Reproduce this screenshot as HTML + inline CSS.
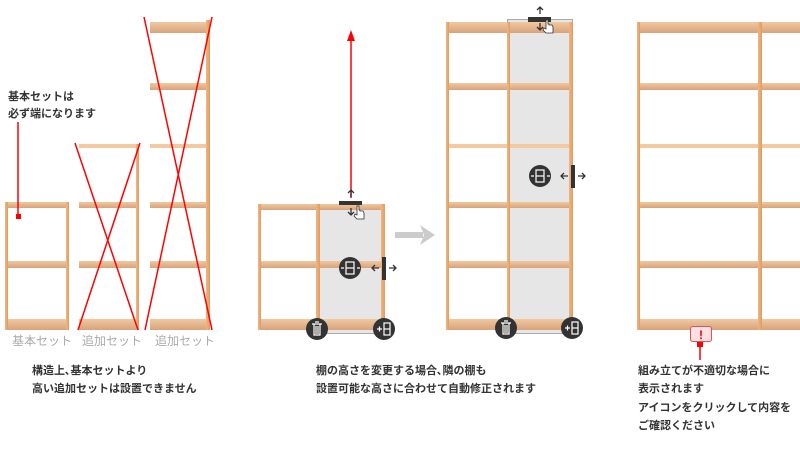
<!DOCTYPE html>
<html><head><meta charset="utf-8"><style>
html,body{margin:0;padding:0;background:#fff;width:800px;height:470px;overflow:hidden}
svg{display:block}
text{font-family:"Liberation Sans","Noto Sans CJK JP",sans-serif}
.t{font-size:11px;font-weight:bold;fill:#333}
.g{font-size:12px;fill:#aaa}
</style></head><body>
<svg width="800" height="470" viewBox="0 0 800 470" xmlns="http://www.w3.org/2000/svg">
<defs>
<linearGradient id="bd" x1="0" y1="0" x2="0" y2="1"><stop offset="0" stop-color="#f0c9a0"/><stop offset="1" stop-color="#d9a27a"/></linearGradient>
<linearGradient id="po" x1="0" y1="0" x2="1" y2="0"><stop offset="0" stop-color="#f2b67e"/><stop offset="1" stop-color="#dd9c66"/></linearGradient>
</defs>
<!-- selection areas (behind) -->
<rect x="318.5" y="204.5" width="65" height="129" fill="#e6e6e6" stroke="#aaa" stroke-width="1"/>
<rect x="507.5" y="19.5" width="65" height="314" fill="#e6e6e6" stroke="#aaa" stroke-width="1"/>

<!-- Set 1 -->
<g fill="url(#bd)">
<rect x="8" y="202" width="58" height="6"/><rect x="8" y="261" width="58" height="7"/><rect x="8" y="319" width="58" height="11"/>
<!-- set2 -->
<rect x="79" y="144" width="57" height="4" fill="#f4c9a0"/><rect x="79" y="202" width="57" height="6"/><rect x="79" y="261" width="57" height="7"/><rect x="79" y="319" width="57" height="11"/>
<!-- set3 -->
<rect x="150" y="22" width="56" height="11"/><rect x="150" y="83" width="56" height="7"/><rect x="150" y="144" width="56" height="4" fill="#f4c9a0"/><rect x="150" y="202" width="56" height="6"/><rect x="150" y="261" width="56" height="7"/><rect x="150" y="319" width="56" height="11"/>
<!-- middle -->
<rect x="258" y="204" width="127" height="6"/><rect x="258" y="261" width="127" height="7"/><rect x="258" y="319" width="127" height="11"/>
<!-- group3 -->
<rect x="446" y="22" width="127" height="11"/><rect x="446" y="83" width="127" height="7"/><rect x="446" y="144" width="127" height="4" fill="#f4c9a0"/><rect x="446" y="202" width="127" height="6"/><rect x="446" y="261" width="127" height="7"/><rect x="446" y="319" width="127" height="11"/>
<!-- group4 -->
<rect x="637" y="22" width="163" height="11"/><rect x="637" y="83" width="163" height="7"/><rect x="637" y="144" width="163" height="4" fill="#f4c9a0"/><rect x="637" y="202" width="163" height="6"/><rect x="637" y="261" width="163" height="7"/><rect x="637" y="319" width="163" height="11"/>
</g>
<g fill="url(#po)">
<rect x="5" y="202" width="3" height="128"/><rect x="66" y="202" width="3" height="128"/>
<rect x="136" y="144" width="3" height="186"/>
<rect x="206" y="20" width="4" height="310"/>
<rect x="258" y="204" width="3" height="126"/><rect x="316" y="204" width="4" height="126"/><rect x="381" y="204" width="4" height="126"/>
<rect x="446" y="22" width="3" height="308"/><rect x="507" y="22" width="3" height="308"/><rect x="569" y="22" width="4" height="308"/>
<rect x="637" y="22" width="3" height="308"/><rect x="758" y="22" width="4" height="308"/>
</g>

<!-- red X -->
<g stroke="#f00" stroke-width="1.5">
<line x1="75" y1="143" x2="138" y2="330"/><line x1="140" y1="143" x2="78" y2="330"/>
<line x1="144" y1="17" x2="212" y2="330"/><line x1="212" y1="17" x2="145" y2="330"/>
<line x1="18" y1="122" x2="18" y2="215"/>
<line x1="351" y1="40" x2="351" y2="198"/>
<line x1="700" y1="341" x2="700" y2="360"/>
</g>
<rect x="16" y="214" width="5" height="5" fill="#f00"/>
<polygon points="351,30 347,41 355,41" fill="#f00"/>
<rect x="697" y="342" width="6" height="5" fill="#f00"/>

<text class="g" x="12" y="345">基本セット</text>
<text class="g" x="82" y="345">追加セット</text>
<text class="g" x="155" y="345">追加セット</text>
<text class="t" x="8" y="100">基本セットは</text>
<text class="t" x="8" y="117">必ず端になります</text>
<text class="t" x="32" y="374">構造上､基本セットより</text>
<text class="t" x="32" y="392">高い追加セットは設置できません</text>

<!-- middle controls -->
<g fill="#333" stroke="#333">
<rect x="339" y="201" width="23" height="4" stroke="none"/>
<path d="M351 190v7M348 193l3-3 3 3M351 208v7M348 212l3 3 3-3" fill="none" stroke-width="1.3"/>
<rect x="382" y="257" width="4" height="23" stroke="none"/>
<path d="M372 268h7M375 265l-3 3 3 3M389 268h7M393 265l3 3-3 3" fill="none" stroke-width="1.3"/>
<circle cx="350" cy="268" r="11" stroke="none"/>
<circle cx="317" cy="329" r="11" stroke="none"/>
<circle cx="384" cy="329" r="11" stroke="none"/>
<rect x="528" y="17" width="23" height="5" stroke="none"/>
<path d="M540 7v7M537 10l3-3 3 3M540 23v7M537 27l3 3 3-3" fill="none" stroke-width="1.3"/>
<rect x="571" y="165" width="4" height="23" stroke="none"/>
<path d="M561 176h7M564 173l-3 3 3 3M578 176h7M582 173l3 3-3 3" fill="none" stroke-width="1.3"/>
<circle cx="540" cy="176" r="11" stroke="none"/>
<circle cx="506" cy="328" r="11" stroke="none"/>
<circle cx="572" cy="328" r="11" stroke="none"/>
</g>
<g stroke="#fff" fill="none" stroke-width="1.2">
<rect x="346" y="262" width="8" height="12"/><line x1="346" y1="268" x2="354" y2="268"/><path d="M341 268h3M357 268h3"/>
<rect x="536" y="170" width="8" height="12"/><line x1="536" y1="176" x2="544" y2="176"/><path d="M531 176h3M547 176h3"/>
<path d="M312 324h10M314 324v11h6v-11M316 326v8M318 326v8M315 322h4"/>
<path d="M501 323h10M503 323v11h6v-11M505 325v8M507 325v8M504 321h4"/>
<rect x="384" y="323" width="6" height="12"/><line x1="384" y1="329" x2="390" y2="329"/><path d="M377 329h5M379.5 326.5v5"/>
<rect x="572" y="322" width="6" height="12"/><line x1="572" y1="328" x2="578" y2="328"/><path d="M565 328h5M567.5 325.5v5"/>
</g>
<!-- cursors -->
<g fill="#fff" stroke="#333" stroke-width="0.8">
<path d="M357 206v9l-2-1-1 2 3 3h7v-6l-1-2h-3v-1h-1v-4z"/>
<path d="M546 20v9l-2-1-1 2 3 3h7v-6l-1-2h-3v-1h-1v-4z"/>
</g>
<!-- gray arrow -->
<rect x="395" y="232" width="28" height="6" fill="#ccc"/>
<polygon points="420,225 435,235 420,245 424,235" fill="#ccc"/>

<text class="t" x="316" y="374">棚の高さを変更する場合､隣の棚も</text>
<text class="t" x="316" y="392">設置可能な高さに合わせて自動修正されます</text>

<!-- warning -->
<rect x="690.5" y="326.5" width="21" height="15" rx="2" fill="#fbe0e4" stroke="#d55" stroke-width="1"/>
<text x="701" y="339" font-size="12" font-weight="bold" fill="#e00" text-anchor="middle">!</text>
<text class="t" x="638" y="374">組み立てが不適切な場合に</text>
<text class="t" x="638" y="392">表示されます</text>
<text class="t" x="638" y="411">アイコンをクリックして内容を</text>
<text class="t" x="638" y="429">ご確認ください</text>
</svg>
</body></html>
